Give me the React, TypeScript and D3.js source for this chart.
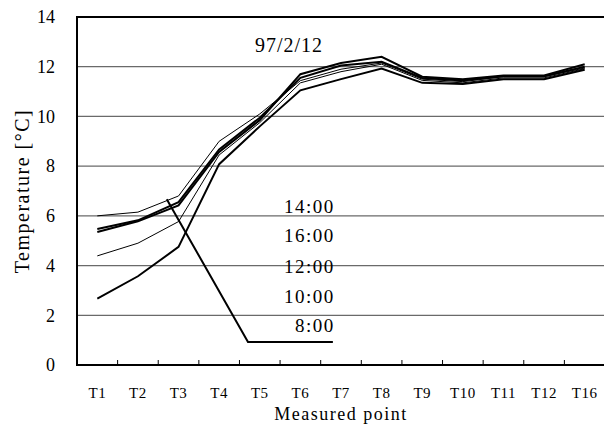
import React, { useEffect, useRef } from 'react';
import * as d3 from 'd3';

// categories on the x axis
const points = ['T1', 'T2', 'T3', 'T4', 'T5', 'T6', 'T7', 'T8', 'T9', 'T10', 'T11', 'T12', 'T16'];

// temperature [°C] per measured point
const t0800 = [2.67, 3.57, 4.75, 8.08, 9.6, 11.05, 11.5, 11.93, 11.35, 11.3, 11.5, 11.5, 11.88];
const t1000 = [4.39, 4.9, 5.77, 8.45, 9.75, 11.35, 11.8, 12.1, 11.45, 11.35, 11.55, 11.55, 11.92];
const t1200 = [5.35, 5.78, 6.42, 8.57, 9.85, 11.7, 12.15, 12.4, 11.6, 11.5, 11.65, 11.65, 12.1];
const t1400 = [6.0, 6.15, 6.8, 9.0, 10.1, 11.44, 11.9, 12.15, 11.5, 11.4, 11.6, 11.6, 11.95];
const t1600 = [5.47, 5.82, 6.55, 8.67, 9.95, 11.55, 12.05, 12.2, 11.55, 11.45, 11.62, 11.62, 12.0];

const yTicks = [0, 2, 4, 6, 8, 10, 12, 14];

// text labels inside the plot (top to bottom) and their value positions
const timeLabels = ['14:00', '16:00', '12:00', '10:00', '8:00'];
const timeLabelValues = [6.12, 4.96, 3.72, 2.48, 1.32];

// leader line in (category index, value) units
const leader: [number, number][] = [[1.71, 6.67], [3.71, 0.93], [5.8, 0.93]];

const App = () => {
  const ref = useRef<SVGSVGElement>(null);

  useEffect(() => {
    const width = 604;
    const height = 426;
    const margin = { top: 17, right: -1, bottom: 60, left: 77 };
    const font = '"Liberation Serif", "Times New Roman", serif';

    const svg = d3.select(ref.current);
    svg.selectAll('*').remove();

    const x = d3.scaleBand()
      .domain(points)
      .range([margin.left, width - margin.right])
      .padding(0);
    const xi = d3.scaleLinear()
      .domain([-0.5, points.length - 0.5])
      .range([margin.left, width - margin.right]);
    const y = d3.scaleLinear()
      .domain([0, 14])
      .range([height - margin.bottom - 1, margin.top]);

    const x0 = margin.left;
    const x1 = width - margin.right;

    // gridlines
    svg.append('g')
      .selectAll('line')
      .data(yTicks.filter(t => t > 0 && t < 14))
      .enter()
      .append('line')
      .attr('x1', x0)
      .attr('x2', x1)
      .attr('y1', d => y(d))
      .attr('y2', d => y(d))
      .attr('stroke', '#6a6a6a')
      .attr('stroke-width', 1.3);

    // top border
    svg.append('line')
      .attr('x1', x0).attr('x2', x1)
      .attr('y1', y(14)).attr('y2', y(14))
      .attr('stroke', '#000').attr('stroke-width', 2);

    // y axis
    svg.append('line')
      .attr('x1', x0).attr('x2', x0)
      .attr('y1', y(14) - 1).attr('y2', y(0) + 1)
      .attr('stroke', '#000').attr('stroke-width', 2);

    // x axis
    svg.append('line')
      .attr('x1', x0).attr('x2', x1)
      .attr('y1', y(0)).attr('y2', y(0))
      .attr('stroke', '#000').attr('stroke-width', 2);

    // category boundary ticks (pointing up)
    svg.append('g')
      .selectAll('line')
      .data(points.slice(1))
      .enter()
      .append('line')
      .attr('x1', d => x(d)!)
      .attr('x2', d => x(d)!)
      .attr('y1', y(0))
      .attr('y2', y(0) - 5)
      .attr('stroke', '#000')
      .attr('stroke-width', 1);

    // y tick labels
    svg.append('g')
      .selectAll('text')
      .data(yTicks)
      .enter()
      .append('text')
      .attr('x', 55)
      .attr('y', d => y(d))
      .attr('dy', '0.35em')
      .attr('text-anchor', 'end')
      .attr('font-family', font)
      .attr('font-size', 18)
      .text(d => d);

    // x tick labels
    svg.append('g')
      .selectAll('text')
      .data(points)
      .enter()
      .append('text')
      .attr('x', d => x(d)! + x.bandwidth() / 2)
      .attr('y', 398)
      .attr('text-anchor', 'middle')
      .attr('font-family', font)
      .attr('font-size', 15)
      .attr('letter-spacing', 0.5)
      .text(d => d);

    // axis titles
    svg.append('text')
      .attr('x', (x0 + x1) / 2)
      .attr('y', 420)
      .attr('text-anchor', 'middle')
      .attr('font-family', font)
      .attr('font-size', 18)
      .attr('letter-spacing', 1.5)
      .text('Measured point');

    svg.append('text')
      .attr('transform', `translate(29,${(y(0) + y(14)) / 2}) rotate(-90)`)
      .attr('text-anchor', 'middle')
      .attr('font-family', font)
      .attr('font-size', 20)
      .attr('letter-spacing', 1.5)
      .text('Temperature [°C]');

    // series lines
    const series = [
      { values: t0800, width: 2 },
      { values: t1000, width: 1 },
      { values: t1200, width: 2 },
      { values: t1400, width: 1 },
      { values: t1600, width: 2 },
    ];
    const line = d3.line<number>()
      .x((_, i) => x(points[i])! + x.bandwidth() / 2)
      .y(d => y(d));

    svg.append('g')
      .selectAll('path')
      .data(series)
      .enter()
      .append('path')
      .attr('d', d => line(d.values))
      .attr('fill', 'none')
      .attr('stroke', '#000')
      .attr('stroke-width', d => d.width)
      .attr('stroke-linejoin', 'miter');

    // leader line
    svg.append('path')
      .attr('d', d3.line<[number, number]>().x(d => xi(d[0])).y(d => y(d[1]))(leader))
      .attr('fill', 'none')
      .attr('stroke', '#000')
      .attr('stroke-width', 2);

    // time labels
    svg.append('g')
      .selectAll('text')
      .data(timeLabels)
      .enter()
      .append('text')
      .attr('x', xi(5.8) + 2)
      .attr('y', (_, i) => y(timeLabelValues[i]))
      .attr('text-anchor', 'end')
      .attr('font-family', font)
      .attr('font-size', 19)
      .attr('letter-spacing', 1.5)
      .text(d => d);

    // date label
    svg.append('text')
      .attr('x', xi(3.88))
      .attr('y', y(12.6))
      .attr('font-family', font)
      .attr('font-size', 20)
      .attr('letter-spacing', 1)
      .text('97/2/12');
  }, []);

  return (
    <svg
      ref={ref}
      width={604}
      height={426}
      style={{ position: 'absolute', left: 0, top: 0, background: '#fff' }}
    />
  );
};

export default App;
